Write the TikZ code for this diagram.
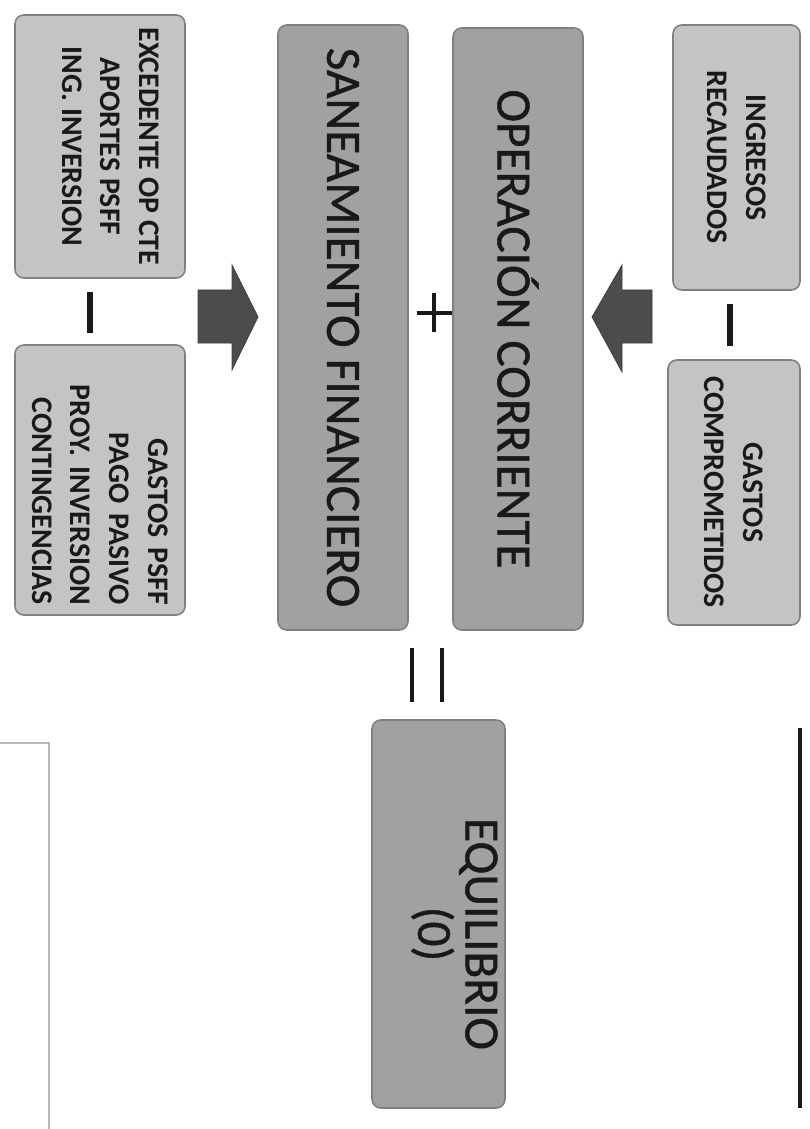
\documentclass[tikz,border=0pt]{standalone}
\usepackage{fontspec}
\setmainfont{Carlito}
\usetikzlibrary{backgrounds}

\definecolor{lightbox}{gray}{0.77}
\definecolor{midbox}{gray}{0.63}
\definecolor{edgegray}{gray}{0.50}
\definecolor{arrowgray}{gray}{0.30}
\definecolor{inkgray}{gray}{0.10}
\definecolor{framegray}{gray}{0.72}

\begin{document}
\begin{tikzpicture}[
    sidebox/.style={
        rectangle,
        rounded corners=5pt,
        draw=edgegray,
        line width=0.9pt,
        fill=lightbox,
        rotate=-90,
        inner sep=0pt,
        text=inkgray,
        font=\bfseries\fontsize{17}{22}\selectfont,
        align=center
    },
    mainbox/.style={
        sidebox,
        fill=midbox,
        font=\fontsize{28}{29}\selectfont\addfontfeature{FakeBold=1}
    },
    blockarrow/.style={
        fill=arrowgray,
        draw=arrowgray!80!black,
        line width=0.4pt
    },
    opsign/.style={
        draw=inkgray,
        line width=#1
    }
]

% ---- Page size (scan proportions) ----
\useasboundingbox[fill=white] (0,0) rectangle (16.18,-22.58);

% ---- Left column: financial sanitation inputs ----
\node[sidebox, minimum width=5.26cm, minimum height=3.4cm, text depth=12pt] (exced) at (2.0,-2.93)
    {EXCEDENTE OP CTE\\APORTES PSFF\\ING. INVERSION};
\node[sidebox, minimum width=5.4cm, minimum height=3.4cm, text width=5.0cm, align=right] (gpsff) at (2.0,-9.6)
    {GASTOS PSFF\\PAGO PASIVO\\PROY. INVERSION\\CONTINGENCIAS};

% ---- Right column: current operation inputs ----
\node[sidebox, minimum width=5.3cm, minimum height=2.54cm] (ingre) at (14.73,-3.15)
    {INGRESOS\\RECAUDADOS};
\node[sidebox, minimum width=5.3cm, minimum height=2.64cm] (gcomp) at (14.68,-9.85)
    {GASTOS\\COMPROMETIDOS};

% ---- Centre: the two results and the balance ----
\node[mainbox, minimum width=12.1cm, minimum height=2.6cm] (sanea) at (6.86,-6.55)
    {SANEAMIENTO FINANCIERO};
\node[mainbox, minimum width=12.04cm, minimum height=2.6cm] (opera) at (10.36,-6.58)
    {OPERACIÓN CORRIENTE};
\node[mainbox, minimum width=7.76cm, minimum height=2.66cm, text depth=22pt] (equil) at (8.77,-18.28)
    {\hspace*{0.8cm}EQUILIBRIO\\[-2pt]\hspace*{0.8cm}(0)};

% ---- Block arrows into the results ----
\fill[blockarrow] (3.96,-5.8) -- (4.64,-5.8) -- (4.64,-5.3) -- (5.16,-6.34)
    -- (4.64,-7.4) -- (4.64,-6.86) -- (3.96,-6.86) -- cycle;
\fill[blockarrow] (13.04,-5.8) -- (12.44,-5.8) -- (12.44,-5.3) -- (11.84,-6.34)
    -- (12.44,-7.44) -- (12.44,-6.86) -- (13.04,-6.86) -- cycle;

% ---- Operators ----
\draw[opsign=3.5pt] (1.8,-5.84) -- (1.8,-6.66);
\draw[opsign=3.2pt] (14.6,-6.08) -- (14.6,-6.92);
\draw[opsign=1.8pt] (8.33,-6.26) -- (9.03,-6.26);
\draw[opsign=1.8pt] (8.68,-5.86) -- (8.68,-6.64);
\draw[opsign=2.8pt] (8.24,-12.96) -- (8.24,-14.04);
\draw[opsign=2.8pt] (8.84,-12.96) -- (8.84,-14.04);

% ---- Frame lines at the page edges ----
\draw[framegray, line width=0.6pt] (0,-14.86) -- (0.98,-14.86) -- (0.98,-22.58);
\draw[inkgray, line width=2.2pt] (16.0,-14.56) -- (16.0,-22.16);

\end{tikzpicture}
\end{document}
